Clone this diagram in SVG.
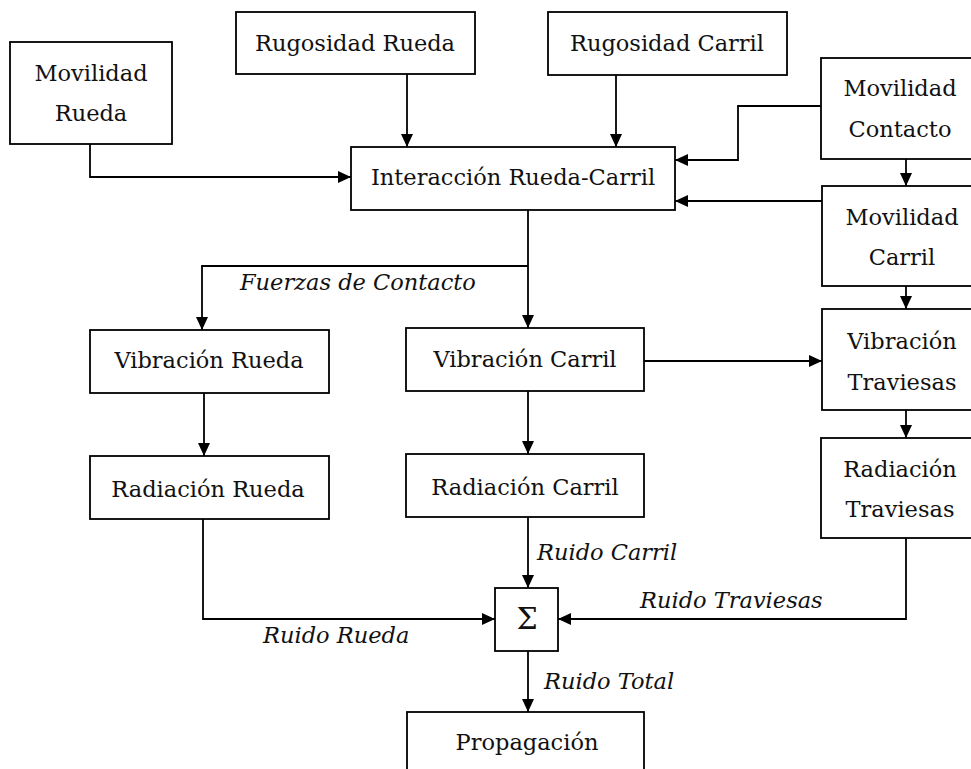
<svg xmlns="http://www.w3.org/2000/svg" width="971" height="769" viewBox="0 0 971 769">
<defs>
<marker id="ah" markerUnits="userSpaceOnUse" markerWidth="14" markerHeight="13" refX="13" refY="6.5" orient="auto">
<path d="M0,0.5 L13,6.5 L0,12.5 z" fill="#000"/>
</marker>
<style>
.box{fill:#fff;stroke:#000;stroke-width:1.8}
.t{font-family:"DejaVu Serif","Liberation Serif",serif;font-size:22.5px;fill:#111;text-anchor:middle}
.l{font-family:"DejaVu Serif","Liberation Serif",serif;font-style:italic;font-size:22.5px;fill:#111}
.c{fill:none;stroke:#000;stroke-width:1.8;marker-end:url(#ah)}
</style>
</defs>
<rect width="971" height="769" fill="#fff"/>
<g id="connectors">
<path class="c" d="M90,144 V177 H351"/>
<path class="c" d="M407,74 V147"/>
<path class="c" d="M616,75 V147"/>
<path class="c" d="M821,106 H738 V160 H675"/>
<path class="c" d="M822,201 H675"/>
<path class="c" d="M906,159 V186"/>
<path class="c" d="M906,286 V309"/>
<path class="c" d="M528,210 V328"/>
<path class="c" d="M528,266 H202 V330"/>
<path class="c" d="M204,393 V456"/>
<path class="c" d="M528,391 V454"/>
<path class="c" d="M644,361 H822"/>
<path class="c" d="M906,410 V438"/>
<path class="c" d="M203,519 V619 H495"/>
<path class="c" d="M528,517 V588"/>
<path class="c" d="M906,538 V619 H558"/>
<path class="c" d="M528,651 V712"/>
<text class="l" x="240" y="290">Fuerzas de Contacto</text>
<text class="l" x="537" y="560">Ruido Carril</text>
<text class="l" x="640" y="608">Ruido Traviesas</text>
<text class="l" x="263" y="643">Ruido Rueda</text>
<text class="l" x="544" y="689">Ruido Total</text>
</g>
<g id="movilidad-rueda"><rect class="box" x="10" y="42" width="162" height="102"/><text class="t" x="91" y="81">Movilidad</text><text class="t" x="91" y="121">Rueda</text></g>
<g id="rugosidad-rueda"><rect class="box" x="236" y="12" width="239" height="62"/><text class="t" x="355" y="51">Rugosidad Rueda</text></g>
<g id="rugosidad-carril"><rect class="box" x="548" y="12" width="239" height="63"/><text class="t" x="667" y="51">Rugosidad Carril</text></g>
<g id="interaccion"><rect class="box" x="351" y="147" width="324" height="63"/><text class="t" x="513" y="185">Interacción Rueda-Carril</text></g>
<g id="movilidad-contacto"><rect class="box" x="821" y="58" width="164" height="101"/><text class="t" x="900" y="96">Movilidad</text><text class="t" x="900" y="137">Contacto</text></g>
<g id="movilidad-carril"><rect class="box" x="822" y="186" width="163" height="100"/><text class="t" x="902" y="225">Movilidad</text><text class="t" x="902" y="265">Carril</text></g>
<g id="vibracion-rueda"><rect class="box" x="90" y="330" width="239" height="63"/><text class="t" x="209" y="368">Vibración Rueda</text></g>
<g id="vibracion-carril"><rect class="box" x="406" y="328" width="238" height="63"/><text class="t" x="525" y="367">Vibración Carril</text></g>
<g id="vibracion-traviesas"><rect class="box" x="822" y="309" width="163" height="101"/><text class="t" x="902" y="349">Vibración</text><text class="t" x="902" y="390">Traviesas</text></g>
<g id="radiacion-rueda"><rect class="box" x="90" y="456" width="239" height="63"/><text class="t" x="208" y="497">Radiación Rueda</text></g>
<g id="radiacion-carril"><rect class="box" x="406" y="454" width="238" height="63"/><text class="t" x="525" y="495">Radiación Carril</text></g>
<g id="radiacion-traviesas"><rect class="box" x="821" y="438" width="164" height="100"/><text class="t" x="900" y="477">Radiación</text><text class="t" x="900" y="517">Traviesas</text></g>
<g id="suma"><rect class="box" x="495" y="588" width="63" height="63"/><text class="t" x="527" y="629" style="font-size:30px">Σ</text></g>
<g id="propagacion"><rect class="box" x="407" y="712" width="237" height="80"/><text class="t" x="527" y="750">Propagación</text></g>
</svg>
